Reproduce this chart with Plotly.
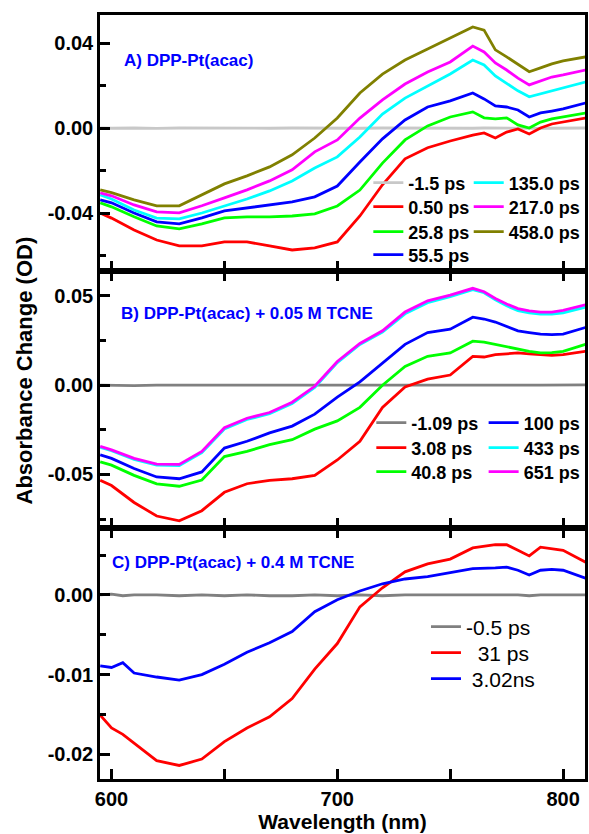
import plotly.graph_objects as go

# ---------------- data ----------------
wl_ab = [595, 600, 610, 620, 630, 640, 650, 660, 670, 680, 690, 700, 710, 720,
         730, 740, 750, 760, 765, 770, 775, 780, 785, 790, 795, 800, 810]

a_m1_5 = [0.0002, 0.0000, 0.0001, -0.0001, 0.0001, 0.0000, -0.0001, 0.0001, 0.0000,
          0.0001, 0.0000, -0.0001, 0.0000, 0.0001, 0.0000, 0.0000, -0.0001, 0.0000,
          0.0001, 0.0000, 0.0000, 0.0001, 0.0000, -0.0001, 0.0000, 0.0000, 0.0001]
a_0_50 = [-0.0399, -0.0423, -0.0479, -0.0526, -0.0554, -0.0554, -0.0535, -0.0535, -0.0554,
          -0.0573, -0.0563, -0.0535, -0.0413, -0.0266, -0.0144, -0.0092, -0.0060, -0.0032,
          -0.0022, -0.0046, -0.0018, -0.0003, -0.0027, 0.0001, 0.0020, 0.0029, 0.0048]
a_25_8 = [-0.0351, -0.0370, -0.0417, -0.0460, -0.0474, -0.0450, -0.0422, -0.0417, -0.0417,
          -0.0413, -0.0403, -0.0366, -0.0291, -0.0164, -0.0055, 0.0011, 0.0053, 0.0077,
          0.0049, 0.0044, 0.0049, 0.0016, 0.0001, 0.0029, 0.0044, 0.0053, 0.0072]
a_55_5 = [-0.0337, -0.0351, -0.0399, -0.0441, -0.0450, -0.0422, -0.0389, -0.0375, -0.0361,
          -0.0347, -0.0323, -0.0272, -0.0159, -0.0050, 0.0039, 0.0100, 0.0129, 0.0166,
          0.0138, 0.0105, 0.0100, 0.0086, 0.0053, 0.0072, 0.0081, 0.0091, 0.0119]
a_135 = [-0.0314, -0.0333, -0.0385, -0.0423, -0.0427, -0.0399, -0.0366, -0.0333, -0.0295,
         -0.0248, -0.0187, -0.0135, -0.0041, 0.0067, 0.0142, 0.0199, 0.0255, 0.0321,
         0.0298, 0.0246, 0.0213, 0.0176, 0.0148, 0.0162, 0.0176, 0.0190, 0.0218]
a_217 = [-0.0304, -0.0318, -0.0361, -0.0394, -0.0398, -0.0365, -0.0328, -0.0290, -0.0248,
         -0.0196, -0.0111, -0.0055, 0.0048, 0.0133, 0.0208, 0.0265, 0.0312, 0.0387,
         0.0359, 0.0307, 0.0274, 0.0236, 0.0204, 0.0223, 0.0241, 0.0251, 0.0274]
a_458 = [-0.0290, -0.0303, -0.0337, -0.0365, -0.0365, -0.0314, -0.0262, -0.0224, -0.0182,
         -0.0125, -0.0046, 0.0048, 0.0166, 0.0255, 0.0321, 0.0373, 0.0425, 0.0477,
         0.0462, 0.0369, 0.0336, 0.0303, 0.0266, 0.0284, 0.0303, 0.0317, 0.0336]

b_m1_09 = [0.0001, 0.0000, -0.0002, 0.0001, 0.0000, 0.0002, -0.0001, 0.0000, 0.0001,
           0.0000, -0.0001, 0.0001, 0.0000, 0.0000, 0.0001, -0.0001, 0.0000, 0.0001,
           0.0000, 0.0000, -0.0001, 0.0001, 0.0000, 0.0000, 0.0001, 0.0000, 0.0002]
b_3_08 = [-0.0533, -0.0562, -0.0657, -0.0733, -0.0760, -0.0703, -0.0600, -0.0552, -0.0533,
          -0.0524, -0.0505, -0.0419, -0.0314, -0.0124, -0.0010, 0.0034, 0.0057, 0.0162,
          0.0158, 0.0171, 0.0176, 0.0181, 0.0176, 0.0171, 0.0168, 0.0171, 0.0190]
b_40_8 = [-0.0429, -0.0448, -0.0505, -0.0553, -0.0566, -0.0531, -0.0400, -0.0371, -0.0333,
          -0.0305, -0.0246, -0.0200, -0.0124, 0.0000, 0.0105, 0.0162, 0.0181, 0.0247,
          0.0242, 0.0229, 0.0215, 0.0200, 0.0190, 0.0181, 0.0183, 0.0190, 0.0229]
b_100 = [-0.0390, -0.0410, -0.0467, -0.0514, -0.0524, -0.0486, -0.0352, -0.0314, -0.0267,
         -0.0229, -0.0162, -0.0067, 0.0019, 0.0124, 0.0229, 0.0295, 0.0314, 0.0381,
         0.0371, 0.0354, 0.0330, 0.0305, 0.0295, 0.0286, 0.0283, 0.0286, 0.0324]
b_433 = [-0.0348, -0.0367, -0.0415, -0.0448, -0.0450, -0.0378, -0.0245, -0.0192, -0.0160,
         -0.0102, -0.0012, 0.0127, 0.0228, 0.0298, 0.0400, 0.0462, 0.0496, 0.0536,
         0.0518, 0.0478, 0.0445, 0.0418, 0.0405, 0.0398, 0.0398, 0.0405, 0.0438]
b_651 = [-0.0343, -0.0362, -0.0410, -0.0442, -0.0444, -0.0371, -0.0238, -0.0185, -0.0153,
         -0.0095, -0.0006, 0.0133, 0.0234, 0.0305, 0.0410, 0.0473, 0.0505, 0.0543,
         0.0524, 0.0486, 0.0455, 0.0429, 0.0417, 0.0410, 0.0410, 0.0419, 0.0451]

wl_c = [595, 600, 605, 610, 620, 630, 640, 650, 660, 670, 680, 690, 700, 710, 720,
        730, 740, 750, 760, 770, 775, 780, 785, 790, 795, 800, 810]
c_m0_5 = [0.0000, 0.0001, -0.0001, 0.0000, 0.0000, -0.0001, 0.0000, -0.0001, 0.0000,
          -0.0001, -0.0001, 0.0000, -0.0001, 0.0000, -0.0001, 0.0000, 0.0000, 0.0000,
          0.0000, 0.0000, 0.0000, 0.0000, -0.0001, 0.0000, 0.0000, 0.0000, 0.0000]
c_31 = [-0.0151, -0.0167, -0.0175, -0.0186, -0.0208, -0.0214, -0.0206, -0.0184, -0.0167,
        -0.0153, -0.0130, -0.0093, -0.0061, -0.0015, 0.0009, 0.0029, 0.0039, 0.0045,
        0.0059, 0.0063, 0.0063, 0.0056, 0.0049, 0.0060, 0.0058, 0.0056, 0.0041]
c_3_02ns = [-0.0089, -0.0091, -0.0085, -0.0098, -0.0103, -0.0107, -0.0100, -0.0087, -0.0072,
            -0.0060, -0.0046, -0.0021, -0.0006, 0.0005, 0.0014, 0.0020, 0.0023, 0.0028,
            0.0033, 0.0034, 0.0035, 0.0031, 0.0025, 0.0031, 0.0032, 0.0031, 0.0021]

x_tickvals = [600, 700, 800]
x_ticktext = ["600", "700", "800"]
ya_tickvals = [-0.04, 0.0, 0.04]
ya_ticktext = ["-0.04", "0.00", "0.04"]
yb_tickvals = [-0.05, 0.0, 0.05]
yb_ticktext = ["-0.05", "0.00", "0.05"]
yc_tickvals = [-0.02, -0.01, 0.0]
yc_ticktext = ["-0.02", "-0.01", "0.00"]

FONT = "Liberation Sans, Arial, sans-serif"
LW = 2.8

# plot-area geometry (px) used to place legends / labels in paper coords
L, R, T, B = 100, 588, 15, 779
PW, PH = R - L, B - T
def px(xp):
    return (xp - L) / PW
def py(yp):
    return (B - yp) / PH

fig = go.Figure()
legends = {}
legfont_b = dict(family=FONT, size=18, color="black", weight="bold")
legfont_n = dict(family=FONT, size=21, color="black")

def add(x, y, name, color, xa, ya, lx, ly, font):
    key = "legend" if not legends else "legend%d" % (len(legends) + 1)
    legends[key] = dict(x=px(lx), y=py(ly), xanchor="left", yanchor="middle",
                        xref="paper", yref="paper", bgcolor="rgba(0,0,0,0)",
                        borderwidth=0, font=font)
    fig.add_trace(go.Scatter(x=x, y=y, mode="lines", name=name,
                             line=dict(color=color, width=LW),
                             xaxis=xa, yaxis=ya, legend=key))

# Panel A
add(wl_ab, a_m1_5, "-1.5 ps", "#c8c8c8", "x", "y", 370, 183, legfont_b)
add(wl_ab, a_0_50, "0.50 ps", "#ff0000", "x", "y", 370, 207, legfont_b)
add(wl_ab, a_25_8, "25.8 ps", "#00ff00", "x", "y", 370, 232, legfont_b)
add(wl_ab, a_55_5, "55.5 ps", "#0000ff", "x", "y", 370, 255, legfont_b)
add(wl_ab, a_135, "135.0 ps", "#00ffff", "x", "y", 471, 183, legfont_b)
add(wl_ab, a_217, "217.0 ps", "#ff00ff", "x", "y", 471, 207, legfont_b)
add(wl_ab, a_458, "458.0 ps", "#808000", "x", "y", 471, 232, legfont_b)
# Panel B
add(wl_ab, b_m1_09, "-1.09 ps", "#808080", "x2", "y2", 373, 423, legfont_b)
add(wl_ab, b_3_08, "3.08 ps", "#ff0000", "x2", "y2", 373, 448, legfont_b)
add(wl_ab, b_40_8, "40.8 ps", "#00ff00", "x2", "y2", 373, 472, legfont_b)
add(wl_ab, b_100, "100 ps", "#0000ff", "x2", "y2", 486, 423, legfont_b)
add(wl_ab, b_433, "433 ps", "#00ffff", "x2", "y2", 486, 448, legfont_b)
add(wl_ab, b_651, "651 ps", "#ff00ff", "x2", "y2", 486, 472, legfont_b)
# Panel C
add(wl_c, c_m0_5, "-0.5 ps", "#808080", "x3", "y3", 428, 627, legfont_n)
add(wl_c, c_31, "\u00a0\u00a031 ps", "#ff0000", "x3", "y3", 428, 653, legfont_n)
add(wl_c, c_3_02ns, "\u00a03.02ns", "#0000ff", "x3", "y3", 428, 679, legfont_n)

XR = [594.9, 809.7]
tickfont = dict(family=FONT, size=20, color="black", weight="bold")

def xax(anchor, mirror, labels):
    return dict(range=XR, anchor=anchor, showline=True, linecolor="black", linewidth=2.5,
                mirror=mirror, ticks="inside", ticklen=10, tickwidth=2.5, tickcolor="black",
                tickvals=x_tickvals, ticktext=x_ticktext, showticklabels=labels,
                minor=dict(tickvals=[650, 750], ticks="inside", ticklen=10, tickwidth=2.5,
                           tickcolor="black"),
                showgrid=False, zeroline=False, tickfont=tickfont)

def yax(domain, rng, tv, tt, minor_vals):
    return dict(domain=domain, range=rng, showline=True, linecolor="black", linewidth=2.5,
                mirror=True, ticks="inside", ticklen=10, tickwidth=2.5, tickcolor="black",
                tickvals=tv, ticktext=tt,
                minor=dict(tickvals=minor_vals, ticks="inside", ticklen=6, tickwidth=2.5,
                           tickcolor="black"),
                showgrid=False, zeroline=False, tickfont=tickfont)

fig.update_layout(
    width=589, height=834,
    margin=dict(l=L, r=589 - R, t=T, b=834 - B),
    paper_bgcolor="white", plot_bgcolor="white",
    showlegend=True,
    xaxis=xax("y", True, False),
    xaxis2=dict(xax("y2", "ticks", False), matches="x"),
    xaxis3=dict(xax("y3", "ticks", True), matches="x",
                title=dict(text="Wavelength (nm)", standoff=2,
                           font=dict(family=FONT, size=21, color="black", weight="bold"))),
    yaxis=yax([py(271), 1.0], [-0.0672, 0.0533], ya_tickvals, ya_ticktext, [-0.06, -0.02, 0.02]),
    yaxis2=yax([py(528), py(271)], [-0.080, 0.064], yb_tickvals, yb_ticktext, [-0.075, -0.025, 0.025]),
    yaxis3=yax([0.0, py(528)], [-0.0231, 0.0084], yc_tickvals, yc_ticktext, [-0.015, -0.005, 0.005]),
    **legends,
)

annfont = dict(family=FONT, size=17, color="#0000ff", weight="bold")
for txt, xl, yl in [("A) DPP-Pt(acac)", 122, 61),
                    ("B) DPP-Pt(acac) + 0.05 M TCNE", 119, 313),
                    ("C) DPP-Pt(acac) + 0.4 M TCNE", 110, 562)]:
    fig.add_annotation(text=txt, x=px(xl), y=py(yl), xref="paper", yref="paper",
                       xanchor="left", yanchor="middle", showarrow=False, font=annfont)

fig.add_annotation(text="Absorbance Change (OD)", x=px(25), y=py(370),
                   xref="paper", yref="paper", xanchor="center", yanchor="middle",
                   textangle=-90, showarrow=False,
                   font=dict(family=FONT, size=22, color="black", weight="bold"))

fig.write_html("out.html")
